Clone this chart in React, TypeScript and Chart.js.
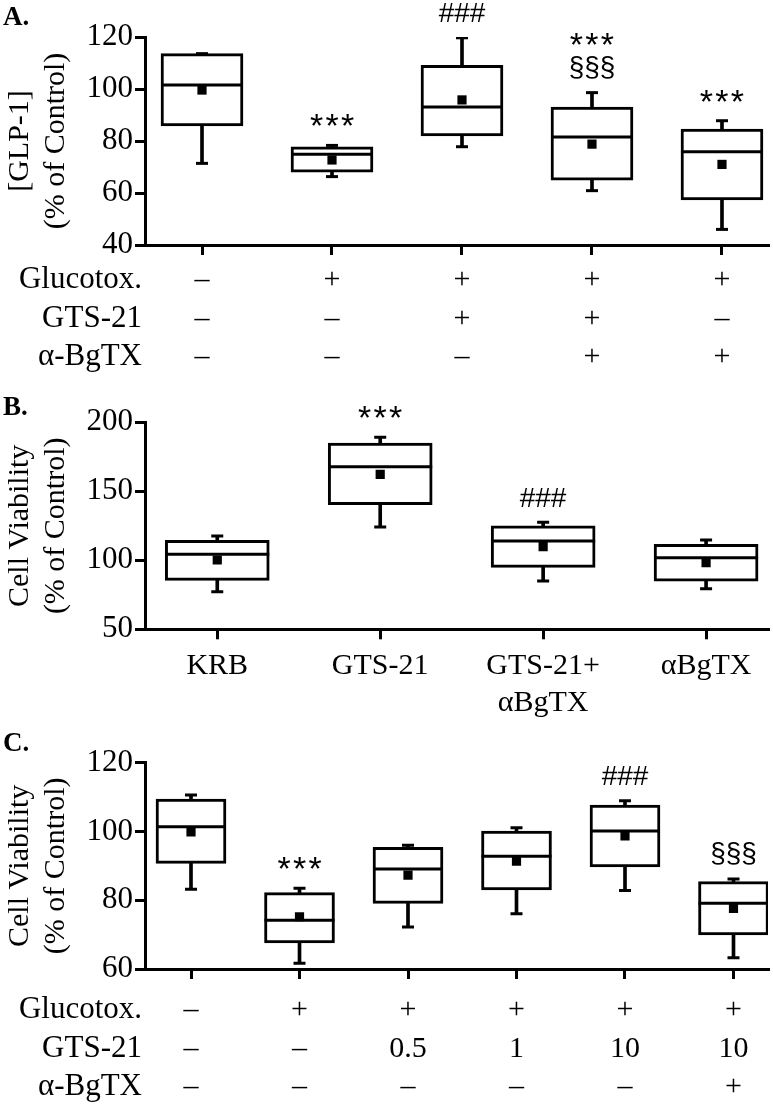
import React, { useEffect, useRef } from "react";
import { Chart, registerables } from "chart.js";

Chart.register(...registerables);

const SERIF = '"Liberation Serif", "Times New Roman", serif';
const SANS = '"Liberation Sans", Arial, sans-serif';

// ---------------- Panel A data ----------------
const rowNames = ["Glucotox.", "GTS-21", "α-BgTX"];
const glucotoxA = ["–", "+", "+", "+", "+"];
const gtsA = ["–", "–", "+", "+", "–"];
const bgtxA = ["–", "–", "–", "+", "+"];
const maxA = [113.6, 78.3, 119.7, 98.6, 87.8];
const q3A = [113.6, 77.8, 109.1, 93.0, 84.6];
const medA = [101.5, 74.9, 93.1, 81.5, 75.9];
const q1A = [85.8, 68.0, 82.0, 64.9, 57.3];
const minA = [71.4, 66.3, 77.8, 60.9, 46.0];
const meanA = [99.6, 72.7, 95.8, 78.8, 71.0];
const sigA = [[], ["***"], ["###"], ["***", "§§§"], ["***"]];
const yTicksA = [40, 60, 80, 100, 120];
const yTitleA = ["[GLP-1]", "(% of Control)"];

// ---------------- Panel B data ----------------
const labelsB = [["KRB"], ["GTS-21"], ["GTS-21+", "αBgTX"], ["αBgTX"]];
const maxB = [117.6, 189.1, 127.5, 114.7];
const q3B = [114.5, 185.0, 124.9, 111.6];
const medB = [104.3, 167.8, 114.0, 101.9];
const q1B = [85.5, 140.3, 94.9, 84.8];
const minB = [77.2, 124.1, 85.0, 79.4];
const meanB = [100.2, 162.3, 109.9, 98.3];
const sigB = [[], ["***"], ["###"], []];
const yTicksB = [50, 100, 150, 200];
const yTitleB = ["Cell Viability", "(% of Control)"];

// ---------------- Panel C data ----------------
const glucotoxC = ["–", "+", "+", "+", "+", "+"];
const gtsC = ["–", "–", "0.5", "1", "10", "10"];
const bgtxC = ["–", "–", "–", "–", "–", "+"];
const maxC = [110.6, 83.5, 96.0, 101.1, 108.9, 86.2];
const q3C = [109.4, 82.2, 95.4, 100.1, 107.7, 85.4];
const medC = [101.4, 74.2, 89.1, 92.8, 100.1, 79.1];
const q1C = [90.7, 67.6, 79.1, 83.0, 89.7, 69.9];
const minC = [83.2, 61.7, 72.2, 76.1, 82.8, 63.3];
const meanC = [99.9, 75.2, 87.3, 91.4, 98.7, 77.6];
const sigC = [[], ["***"], [], [], ["###"], ["§§§"]];
const yTicksC = [60, 80, 100, 120];
const yTitleC = ["Cell Viability", "(% of Control)"];

type Panel = {
  letter: string;
  letterBaseline: number;
  height: number;
  labels: string[][];
  rowNames: string[] | null;
  q1: number[];
  med: number[];
  q3: number[];
  min: number[];
  max: number[];
  mean: number[];
  sig: string[][];
  yTicks: number[];
  yTitle: string[];
  xMin: number;
  xMax: number;
  boxWidth: number;
  areaTop: number;
  axisHeight: number;
  tickPad: number;
  tickLineH: number;
};

const panelA: Panel = {
  letter: "A.",
  letterBaseline: 25,
  height: 375,
  labels: glucotoxA.map((g, i) => [g, gtsA[i], bgtxA[i]]),
  rowNames,
  q1: q1A, med: medA, q3: q3A, min: minA, max: maxA, mean: meanA,
  sig: sigA,
  yTicks: yTicksA,
  yTitle: yTitleA,
  xMin: 0.5615,
  xMax: 5.354,
  boxWidth: 82,
  areaTop: 37,
  axisHeight: 130,
  tickPad: 6,
  tickLineH: 38.5,
};

const panelB: Panel = {
  letter: "B.",
  letterBaseline: 25,
  height: 330,
  labels: labelsB,
  rowNames: null,
  q1: q1B, med: medB, q3: q3B, min: minB, max: maxB, mean: meanB,
  sig: sigB,
  yTicks: yTicksB,
  yTitle: yTitleB,
  xMin: 0.5565,
  xMax: 4.38,
  boxWidth: 104,
  areaTop: 32.3,
  axisHeight: 90.7,
  tickPad: 8,
  tickLineH: 37,
};

const panelC: Panel = {
  letter: "C.",
  letterBaseline: 31,
  height: 388,
  labels: glucotoxC.map((g, i) => [g, gtsC[i], bgtxC[i]]),
  rowNames,
  q1: q1C, med: medC, q3: q3C, min: minC, max: maxC, mean: meanC,
  sig: sigC,
  yTicks: yTicksC,
  yTitle: yTitleC,
  xMin: 0.576,
  xMax: 6.318,
  boxWidth: 70,
  areaTop: 42.7,
  axisHeight: 139,
  tickPad: 12,
  tickLineH: 38.5,
};

const TICK_LEN = 10;

function buildChart(canvas: HTMLCanvasElement, p: Panel) {
  const xs = p.q1.map((_, i) => i + 1);
  const boxData = xs.map((x, i) => ({ x, y: [p.q1[i], p.q3[i]] }));
  const whiskHi = xs.map((x, i) => ({ x, y: [p.q3[i], p.max[i]] }));
  const whiskLo = xs.map((x, i) => ({ x, y: [p.min[i], p.q1[i]] }));
  const capHi = xs.map((x, i) => ({ x, y: p.max[i] }));
  const capLo = xs.map((x, i) => ({ x, y: p.min[i] }));
  const medData = xs.map((x, i) => ({ x, y: p.med[i] }));
  const meanData = xs.map((x, i) => ({ x, y: p.mean[i] }));

  const decor = {
    id: "decor",
    afterDraw(chart: any) {
      const ctx = chart.ctx as CanvasRenderingContext2D;
      const sx = chart.scales.x;
      const sy = chart.scales.y;
      ctx.save();
      ctx.fillStyle = "#000";
      ctx.font = `bold 27px ${SERIF}`;
      ctx.textAlign = "left";
      ctx.textBaseline = "alphabetic";
      ctx.fillText(p.letter, 3, p.letterBaseline);

      if (p.rowNames) {
        ctx.font = `31px ${SERIF}`;
        ctx.textAlign = "right";
        ctx.textBaseline = "middle";
        const y0 = sx.top + TICK_LEN + p.tickPad + p.tickLineH / 2;
        p.rowNames.forEach((t, k) => ctx.fillText(t, sy.right - 3, y0 + k * p.tickLineH));
      }

      ctx.textAlign = "center";
      ctx.textBaseline = "alphabetic";
      p.sig.forEach((lines, i) => {
        if (!lines.length) return;
        const cx = sx.getPixelForValue(i + 1);
        const base = sy.getPixelForValue(p.max[i]) - 25;
        lines.forEach((s, k) => {
          const cy = base - (lines.length - 1 - k) * 29;
          const chars = Array.from(s);
          chars.forEach((ch, j) => {
            ctx.font = ch === "*" ? `34px ${SANS}` : `28px ${SANS}`;
            const m = ctx.measureText(ch);
            const by = cy + (m.actualBoundingBoxAscent - m.actualBoundingBoxDescent) / 2;
            ctx.fillText(ch, cx + (j - (chars.length - 1) / 2) * 15.5, by);
          });
        });
      });
      ctx.restore();
    },
  };

  return new Chart(canvas, {
    type: "bar",
    data: {
      datasets: [
        { type: "scatter", data: meanData, pointStyle: "rect", pointRadius: 6.5, backgroundColor: "#000", borderWidth: 0, order: 1 } as any,
        { type: "scatter", data: medData, pointStyle: "line", pointRadius: p.boxWidth / 2, borderColor: "#000", borderWidth: 3, order: 2 } as any,
        { type: "scatter", data: capHi, pointStyle: "line", pointRadius: 6, borderColor: "#000", borderWidth: 3, order: 3 } as any,
        { type: "scatter", data: capLo, pointStyle: "line", pointRadius: 6, borderColor: "#000", borderWidth: 3, order: 3 } as any,
        { type: "bar", data: whiskHi, barThickness: 3, backgroundColor: "#000", borderWidth: 0, grouped: false, order: 4 } as any,
        { type: "bar", data: whiskLo, barThickness: 3, backgroundColor: "#000", borderWidth: 0, grouped: false, order: 4 } as any,
        { type: "bar", data: boxData, barThickness: p.boxWidth, backgroundColor: "#fff", borderColor: "#000", borderWidth: 3, borderSkipped: false, grouped: false, order: 5 } as any,
      ],
    },
    options: {
      animation: false,
      responsive: false,
      devicePixelRatio: 1,
      events: [],
      layout: { autoPadding: false, padding: { top: p.areaTop, right: 5, left: 0, bottom: 0 } },
      plugins: { legend: { display: false }, tooltip: { enabled: false } },
      scales: {
        x: {
          type: "linear",
          position: "bottom",
          min: p.xMin,
          max: p.xMax,
          offset: false,
          afterBuildTicks: (s: any) => {
            s.ticks = xs.map((v) => ({ value: v }));
          },
          afterFit: (s: any) => {
            s.height = p.axisHeight;
          },
          ticks: {
            autoSkip: false,
            maxRotation: 0,
            minRotation: 0,
            padding: p.tickPad,
            color: "#000",
            font: { family: SERIF, size: 30, lineHeight: p.tickLineH / 30 },
            callback: (v: any) => p.labels[Math.round(Number(v)) - 1] ?? "",
          },
          grid: { display: true, offset: false, drawOnChartArea: false, drawTicks: true, tickLength: TICK_LEN, color: "#000", lineWidth: 3 },
          border: { display: true, color: "#000", width: 3 },
        },
        y: {
          type: "linear",
          min: p.yTicks[0],
          max: p.yTicks[p.yTicks.length - 1],
          afterBuildTicks: (s: any) => {
            s.ticks = p.yTicks.map((v) => ({ value: v }));
          },
          afterFit: (s: any) => {
            s.width = 145;
          },
          ticks: {
            padding: 2,
            color: "#000",
            font: { family: SERIF, size: 31 },
          },
          title: {
            display: true,
            text: p.yTitle,
            color: "#000",
            font: { family: SERIF, size: 30, lineHeight: 1.2 },
            padding: { top: 2, bottom: 0 },
          },
          grid: { display: true, drawOnChartArea: false, drawTicks: true, tickLength: TICK_LEN, color: "#000", lineWidth: 3 },
          border: { display: true, color: "#000", width: 3 },
        },
      },
    } as any,
    plugins: [decor],
  });
}

export default function App() {
  const refA = useRef<HTMLCanvasElement>(null);
  const refB = useRef<HTMLCanvasElement>(null);
  const refC = useRef<HTMLCanvasElement>(null);

  useEffect(() => {
    const charts = [
      buildChart(refA.current!, panelA),
      buildChart(refB.current!, panelB),
      buildChart(refC.current!, panelC),
    ];
    return () => charts.forEach((c) => c.destroy());
  }, []);

  return (
    <div style={{ position: "absolute", left: 0, top: 0, width: 773, height: 1108, background: "#fff" }}>
      <canvas ref={refA} width={773} height={panelA.height} style={{ position: "absolute", left: 0, top: 0 }} />
      <canvas ref={refB} width={773} height={panelB.height} style={{ position: "absolute", left: 0, top: 390 }} />
      <canvas ref={refC} width={773} height={panelC.height} style={{ position: "absolute", left: 0, top: 720 }} />
    </div>
  );
}
